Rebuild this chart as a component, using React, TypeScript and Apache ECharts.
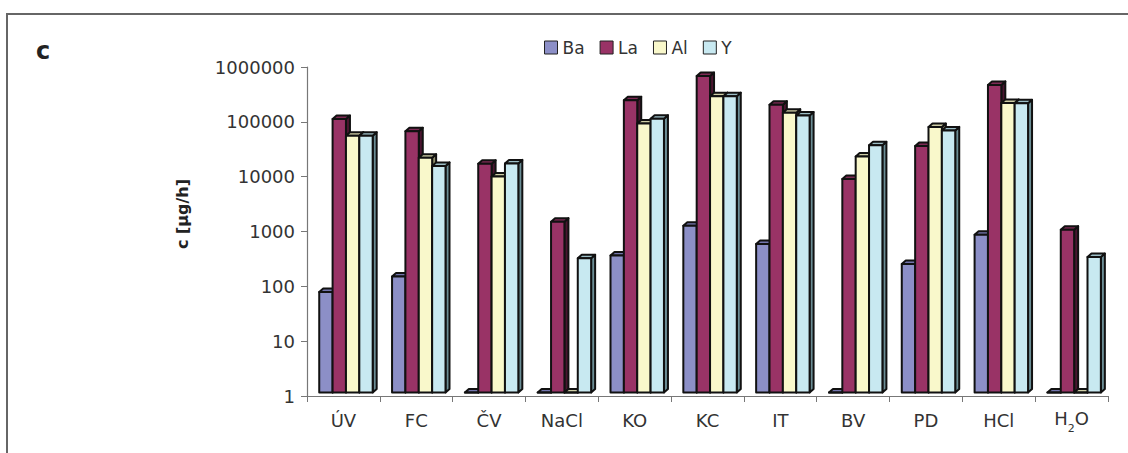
import React, { useEffect, useRef } from 'react';
import * as echarts from 'echarts';

const categories = ['ÚV', 'FC', 'ČV', 'NaCl', 'KO', 'KC', 'IT', 'BV', 'PD', 'HCl', 'H2O'];
const seriesNames = ['Ba', 'La', 'Al', 'Y'];
const baValues = [68, 130, 1, 1, 315, 1100, 510, 1, 220, 750, 1];
const laValues = [97000, 58000, 14800, 1300, 213000, 590000, 177000, 7800, 31000, 405000, 930];
const alValues = [48000, 19000, 8700, 1, 80000, 253000, 126000, 20000, 69000, 190000, 1];
const yValues = [48000, 13500, 15000, 280, 98000, 253000, 112000, 32000, 60000, 187000, 294];
const yTickLabels = ['1', '10', '100', '1000', '10000', '100000', '1000000'];
const yAxisTitle = 'c [µg/h]';
const panelLabel = 'c';

const FRONT = ['#8c8fc7', '#993366', '#f9f8cb', '#c8e9f1'];
const TOP = ['#7375ad', '#7e2a55', '#cfcea6', '#9cbec6'];
const SIDE = ['#505383', '#4a1530', '#8f8e6d', '#6b8d95'];

const FONT = '"DejaVu Sans", sans-serif';

function makeRender(si: number) {
  return (params: any, api: any) => {
    const cat = api.value(0);
    const v = api.value(1);
    const cs = params.coordSys;
    const band = cs.width / categories.length;
    const base = api.coord([cat, 1]);
    const top = api.coord([cat, v]);
    const w = band * 0.1835;
    const x0 = base[0] - band / 2 + band * 0.168 + si * w;
    const x1 = x0 + w;
    const yb = base[1] - 3.6;
    const yt = top[1] - 3.6;
    const dx = 4;
    const dy = 3.5;
    const st = { stroke: '#111', lineWidth: 2, lineJoin: 'round' };
    return {
      type: 'group',
      children: [
        {
          type: 'polygon',
          shape: { points: [[x1, yt], [x1 + dx, yt - dy], [x1 + dx, yb - dy], [x1, yb]] },
          style: { fill: SIDE[si], ...st },
        },
        {
          type: 'polygon',
          shape: { points: [[x0, yt], [x0 + dx, yt - dy], [x1 + dx, yt - dy], [x1, yt]] },
          style: { fill: TOP[si], ...st },
        },
        {
          type: 'rect',
          shape: { x: x0, y: yt, width: w, height: Math.max(0, yb - yt) },
          style: { fill: FRONT[si], ...st },
        },
      ],
    };
  };
}

export default function App() {
  const ref = useRef<HTMLDivElement>(null);
  useEffect(() => {
    if (!ref.current) return;
    const chart = echarts.init(ref.current, undefined, { renderer: 'svg' });
    const all = [baValues, laValues, alValues, yValues];
    chart.setOption({
      animation: false,
      backgroundColor: '#ffffff',
      textStyle: { fontFamily: FONT },
      graphic: [
        {
          type: 'rect',
          shape: { x: 7, y: 14, width: 1300, height: 600 },
          style: { fill: 'none', stroke: '#666', lineWidth: 2 },
          silent: true,
        },
        {
          type: 'text',
          x: 36,
          y: 51,
          style: {
            text: panelLabel,
            fontFamily: FONT,
            fontWeight: 'bold',
            fontSize: 24,
            fill: '#222',
            verticalAlign: 'middle',
          },
        },
        {
          type: 'text',
          x: 182,
          y: 214,
          rotation: Math.PI / 2,
          style: {
            text: yAxisTitle,
            fontFamily: FONT,
            fontWeight: 'bold',
            fontSize: 16,
            fill: '#222',
            align: 'center',
            verticalAlign: 'middle',
          },
        },
      ],
      legend: {
        left: 544,
        top: 39,
        padding: 0,
        icon: 'rect',
        itemWidth: 13,
        itemHeight: 13,
        itemGap: 15,
        itemStyle: { borderColor: '#222', borderWidth: 1 },
        textStyle: { fontFamily: FONT, fontSize: 17, color: '#333' },
        data: seriesNames,
      },
      grid: { left: 307, right: 20, top: 67, bottom: 57 },
      xAxis: {
        type: 'category',
        data: categories,
        axisLine: { lineStyle: { color: '#777', width: 1.2 } },
        axisTick: { show: true, length: 6, interval: 0, lineStyle: { color: '#777' } },
        axisLabel: {
          interval: 0,
          margin: 13,
          fontFamily: FONT,
          fontSize: 18,
          color: '#333',
          lineHeight: 22,
          formatter: (v: string) => (v === 'H2O' ? '{n|H}{s|2}{n|O}' : v),
          rich: {
            n: { fontFamily: FONT, fontSize: 18, color: '#333', lineHeight: 22, verticalAlign: 'top' },
            s: { fontFamily: FONT, fontSize: 11, color: '#333', lineHeight: 25, verticalAlign: 'bottom' },
          },
        },
      },
      yAxis: {
        type: 'log',
        logBase: 10,
        min: 1,
        max: 1000000,
        axisLine: { show: true, lineStyle: { color: '#777', width: 1.2 } },
        axisTick: { show: true, length: 6, lineStyle: { color: '#777' } },
        splitLine: { show: false },
        minorTick: { show: false },
        axisLabel: {
          margin: 12,
          fontFamily: FONT,
          fontSize: 18,
          color: '#333',
          formatter: (v: number) => yTickLabels[Math.round(Math.log10(v))] ?? '',
        },
      },
      series: all.map((vals, si) => ({
        type: 'custom',
        name: seriesNames[si],
        clip: false,
        itemStyle: { color: FRONT[si] },
        encode: { x: 0, y: 1 },
        data: vals.map((v, i) => [i, v]),
        renderItem: makeRender(si),
      })),
    });
    return () => chart.dispose();
  }, []);
  return (
    <div
      ref={ref}
      style={{ position: 'fixed', left: 0, top: 0, width: 1128, height: 453 }}
    />
  );
}
